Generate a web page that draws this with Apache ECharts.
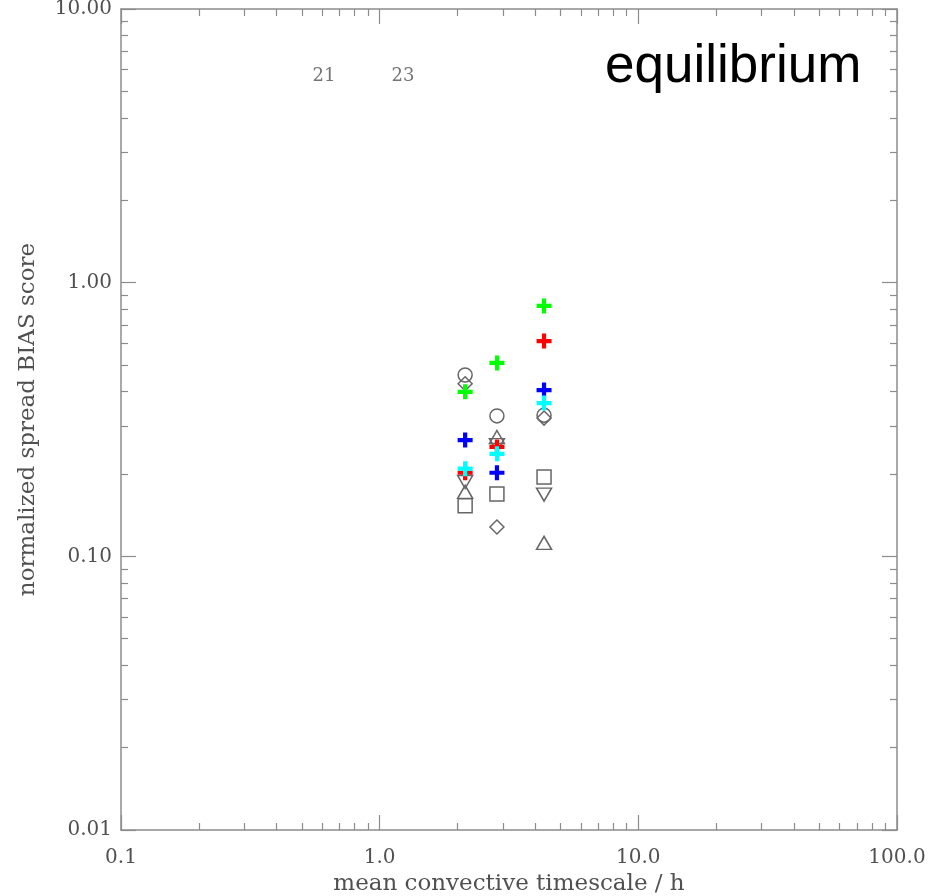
<!DOCTYPE html>
<html>
<head>
<meta charset="utf-8">
<script src="https://cdn.jsdelivr.net/npm/echarts@6/dist/echarts.min.js"></script>
<style>
  html, body { margin: 0; padding: 0; background: #fff; }
  #chart { width: 929px; height: 896px; }
</style>
</head>
<body>
<div id="chart"></div>
<script>
// Mean convective timescale (h) of each experiment column
const timescales = [2.14, 2.84, 4.32];

// Normalized spread BIAS score per member type, one value per column
const circleScores   = [0.460, 0.326, 0.328];
const diamondScores  = [0.427, 0.128, 0.320];
const triUpScores    = [0.172, 0.273, 0.112];
const triDownScores  = [0.187, 0.255, 0.168];
const squareScores   = [0.153, 0.169, 0.195];
const greenScores    = [0.399, 0.509, 0.822];
const redScores      = [0.202, 0.251, 0.612];
const blueScores     = [0.266, 0.202, 0.405];
const cyanScores     = [0.209, 0.237, 0.363];

// Case annotations near the top of the frame
const noteText = ['21', '23'];
const noteX = [0.609, 1.23];
const noteY = [5.69, 5.69];

// Axis labels
const xTickLabels = ['0.1', '1.0', '10.0', '100.0'];
const yTickLabels = ['0.01', '0.10', '1.00', '10.00'];
const xMinorTicks = [0.2,0.3,0.4,0.5,0.6,0.7,0.8,0.9, 2,3,4,5,6,7,8,9, 20,30,40,50,60,70,80,90];
const yMinorTicks = [0.02,0.03,0.04,0.05,0.06,0.07,0.08,0.09, 0.2,0.3,0.4,0.5,0.6,0.7,0.8,0.9, 2,3,4,5,6,7,8,9];

const serifFont = 'DejaVu Serif';
const axisGray = '#8c8c8c';
const textGray = '#505050';
const symbolGray = '#666';
const plusPath = 'path://M3.6,0H6.4V3.6H10V6.4H6.4V10H3.6V6.4H0V3.6H3.6Z';

const points = vals => timescales.map((t, i) => [t, vals[i]]);

function decadeLabel(labels, min) {
  return v => {
    const k = Math.round(Math.log10(v) - Math.log10(min));
    return labels[k] !== undefined ? labels[k] : '';
  };
}

function xAxisDef(position, major, showLabels) {
  return {
    type: 'log', logBase: 10, min: 0.1, max: 100, position: position,
    gridIndex: 0,
    axisLine: { show: major, onZero: false, lineStyle: { color: axisGray, width: 1.5 } },
    axisTick: major
      ? { show: true, inside: true, length: 15, lineStyle: { color: axisGray, width: 1.2 } }
      : { show: true, inside: true, length: 7, customValues: xMinorTicks, lineStyle: { color: axisGray, width: 1.2 } },
    axisLabel: {
      show: showLabels, margin: 18, color: textGray,
      fontFamily: serifFont, fontSize: 20,
      formatter: decadeLabel(xTickLabels, 0.1)
    },
    splitLine: { show: false },
    minorTick: { show: false },
    name: showLabels ? 'mean convective timescale / h' : '',
    nameLocation: 'middle', nameGap: 42,
    nameTextStyle: { color: textGray, fontFamily: serifFont, fontSize: 23 }
  };
}

function yAxisDef(position, major, showLabels) {
  return {
    type: 'log', logBase: 10, min: 0.01, max: 10, position: position,
    gridIndex: 0,
    axisLine: { show: major, onZero: false, lineStyle: { color: axisGray, width: 1.5 } },
    axisTick: major
      ? { show: true, inside: true, length: 15, lineStyle: { color: axisGray, width: 1.2 } }
      : { show: true, inside: true, length: 7, customValues: yMinorTicks, lineStyle: { color: axisGray, width: 1.2 } },
    axisLabel: {
      show: showLabels, margin: 9, color: textGray,
      fontFamily: serifFont, fontSize: 20,
      formatter: decadeLabel(yTickLabels, 0.01)
    },
    splitLine: { show: false },
    minorTick: { show: false },
    name: showLabels ? 'normalized spread BIAS score' : '',
    nameLocation: 'middle', nameGap: 81, nameRotate: 90,
    nameTextStyle: { color: textGray, fontFamily: serifFont, fontSize: 23 }
  };
}

function openSymbol(name, symbol, vals, rotate) {
  return {
    name: name, type: 'scatter', xAxisIndex: 0, yAxisIndex: 0,
    symbol: symbol, symbolSize: symbol === 'triangle' ? [15, 13] : 14,
    symbolRotate: rotate || 0,
    itemStyle: { color: 'rgba(255,255,255,0)', borderColor: symbolGray, borderWidth: 1.5, opacity: 1 },
    emphasis: { disabled: true },
    data: points(vals), z: 3
  };
}

function plusSymbol(name, color, vals) {
  return {
    name: name, type: 'scatter', xAxisIndex: 0, yAxisIndex: 0,
    symbol: plusPath, symbolSize: 15, symbolKeepAspect: true,
    itemStyle: { color: color, opacity: 1 },
    emphasis: { disabled: true },
    data: points(vals), z: 4
  };
}

const chart = echarts.init(document.getElementById('chart'), null, { renderer: 'canvas' });

chart.setOption({
  backgroundColor: '#fff',
  animation: false,
  grid: { left: 121, right: 32, top: 9, bottom: 66, containLabel: false, outerBoundsMode: 'none' },
  xAxis: [
    xAxisDef('bottom', true, true),
    xAxisDef('bottom', false, false),
    xAxisDef('top', true, false),
    xAxisDef('top', false, false)
  ],
  yAxis: [
    yAxisDef('left', true, true),
    yAxisDef('left', false, false),
    yAxisDef('right', true, false),
    yAxisDef('right', false, false)
  ],
  graphic: [{
    type: 'text', left: 605, top: 41,
    style: { text: 'equilibrium', fill: '#000', font: '53px "Liberation Sans", Arial, sans-serif' }
  }],
  series: [
    openSymbol('circle', 'circle', circleScores),
    openSymbol('diamond', 'diamond', diamondScores),
    openSymbol('triangle up', 'triangle', triUpScores),
    openSymbol('triangle down', 'triangle', triDownScores, 180),
    openSymbol('square', 'rect', squareScores),
    plusSymbol('green', '#00ff00', greenScores),
    plusSymbol('red', '#ff0000', redScores),
    plusSymbol('blue', '#0000ff', blueScores),
    plusSymbol('cyan', '#00ffff', cyanScores),
    {
      name: 'cases', type: 'scatter', xAxisIndex: 0, yAxisIndex: 0,
      symbolSize: 0, silent: true,
      label: {
        show: true, position: 'inside', formatter: '{b}',
        color: textGray, fontFamily: serifFont, fontSize: 18
      },
      data: noteText.map((t, i) => ({ name: t, value: [noteX[i], noteY[i]] }))
    }
  ]
});
</script>
</body>
</html>
